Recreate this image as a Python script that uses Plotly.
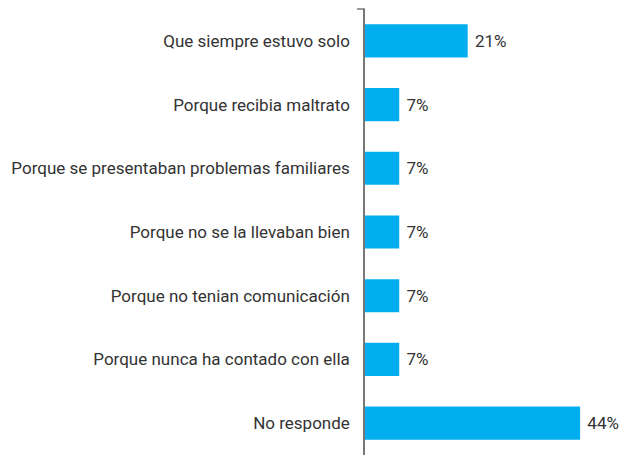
import plotly.graph_objects as go

categories = [
    "Que siempre estuvo solo",
    "Porque recibia maltrato",
    "Porque se presentaban problemas familiares",
    "Porque no se la llevaban bien",
    "Porque no tenian comunicación",
    "Porque nunca ha contado con ella",
    "No responde",
]
values = [21, 7, 7, 7, 7, 7, 44]
labels = [f"\u00a0{v}%" for v in values]

FONT = "Roboto, sans-serif"

fig = go.Figure(
    go.Bar(
        y=categories,
        x=values,
        orientation="h",
        marker=dict(color="#00AEEF", line=dict(width=0)),
        text=labels,
        textposition="outside",
        textfont=dict(family=FONT, size=17, color="#333333"),
        cliponaxis=False,
    )
)

# the page body has an 8px margin, so the figure is sized to fit the window
fig.update_layout(
    width=621,
    height=447,
    margin=dict(l=357, r=0, t=1, b=0),
    plot_bgcolor="white",
    paper_bgcolor="white",
    bargap=0.48,
    showlegend=False,
    font=dict(family=FONT, size=17, color="#333333"),
)
fig.update_yaxes(
    autorange="reversed",
    automargin=False,
    showline=True,
    linecolor="#777777",
    linewidth=1.5,
    ticks="",
    ticklabelstandoff=10,
    showgrid=False,
)
fig.update_xaxes(
    range=[0, 54],
    visible=False,
    automargin=False,
    showgrid=False,
    zeroline=False,
)
# small end tick at top of the axis
fig.add_shape(type="line", xref="paper", yref="paper", x0=-0.03, x1=0, y0=1, y1=1,
              line=dict(color="#777777", width=1.5))

fig.write_html("out.html")
